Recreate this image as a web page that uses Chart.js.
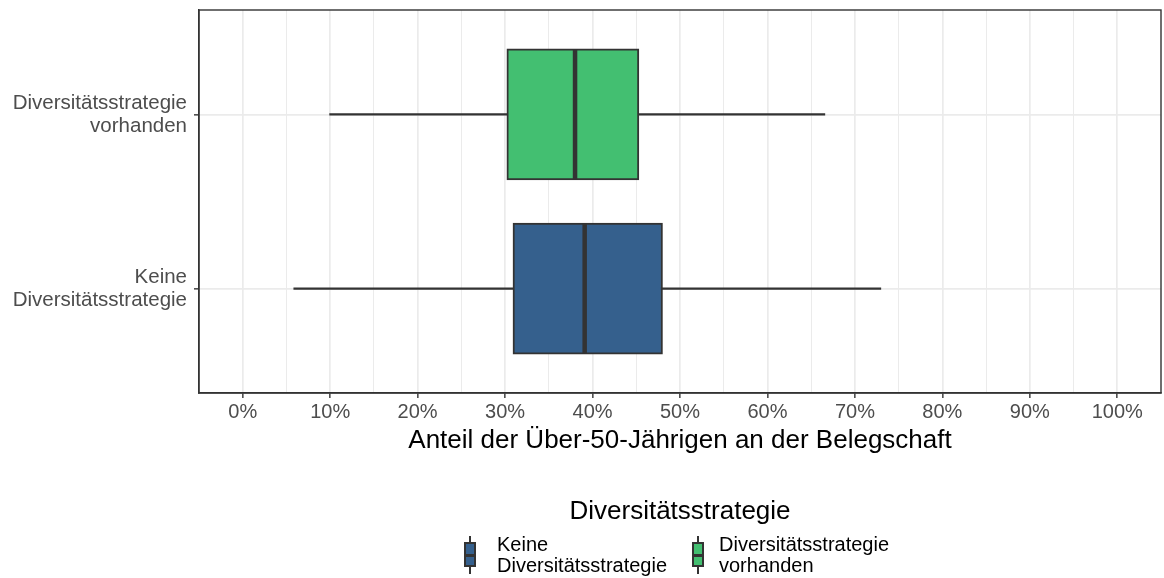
<!DOCTYPE html>
<html>
<head>
<meta charset="utf-8">
<script src="https://cdn.jsdelivr.net/npm/chart.js@4.4.1/dist/chart.umd.min.js"></script>
<style>
html, body { margin: 0; padding: 0; background: #ffffff; }
#wrap { position: relative; width: 1164px; height: 578px; overflow: hidden; }
#c { position: absolute; left: 0; top: 0; }
.lg { position: absolute; font-family: "Liberation Sans", Arial, sans-serif; color: #000; white-space: nowrap; }
.lgTitle { font-size: 26px; line-height: 30px; transform: translateX(-50%); }
.lgLabel { font-size: 20px; line-height: 21px; }
.glyph { position: absolute; }
.glyph .wh { position: absolute; left: 50%; width: 2px; margin-left: -1px; background: #333; }
.glyph .bx { position: absolute; box-sizing: border-box; border: 2px solid #333; }
.glyph .md { position: absolute; height: 3px; background: #333; }
</style>
</head>
<body>
<div id="wrap">
  <canvas id="c" width="1164" height="578"></canvas>
  <div id="legend"></div>
</div>
<script>
// ---------------- data ----------------
const categories = ['Keine Diversitätsstrategie', 'Diversitätsstrategie vorhanden'];
const categoryLabels = [['Keine', 'Diversitätsstrategie'], ['Diversitätsstrategie', 'vorhanden']];
const categoryPos = [1, 2];
const whiskerLow  = [5.8, 9.9];
const q1          = [30.9, 30.2];
const median      = [39.1, 38.0];
const q3          = [48.0, 45.3];
const whiskerHigh = [73.0, 66.6];
const boxColors   = ['#35608D', '#43BF71'];
const xTickValues = [0, 10, 20, 30, 40, 50, 60, 70, 80, 90, 100];
const xTitle = 'Anteil der Über-50-Jährigen an der Belegschaft';
const legendTitle = 'Diversitätsstrategie';
const legendLabels = [['Keine', 'Diversitätsstrategie'], ['Diversitätsstrategie', 'vorhanden']];

// ---------------- style ----------------
const FONT = '"Liberation Sans", Arial, sans-serif';
const INK = '#333333';
const GRID = '#EBEBEB';
const HALF_BOX = 0.375;

const minorTicks = [];
for (let i = 0; i < xTickValues.length - 1; i++) minorTicks.push((xTickValues[i] + xTickValues[i + 1]) / 2);
const allXTicks = xTickValues.concat(minorTicks).sort((a, b) => a - b);
const isMajor = v => xTickValues.includes(v);

const datasets = [];
// medians (drawn on top)
categories.forEach((c, i) => {
  datasets.push({
    type: 'line',
    label: c + ' median',
    data: [{ x: median[i], y: categoryPos[i] - HALF_BOX }, { x: median[i], y: categoryPos[i] + HALF_BOX }],
    borderColor: INK, borderWidth: 4.5, pointRadius: 0, borderCapStyle: 'butt', order: 0
  });
});
// boxes
datasets.push({
  type: 'bar',
  label: 'box',
  data: categories.map((c, i) => ({ x: [q1[i], q3[i]], y: categoryPos[i] })),
  backgroundColor: boxColors,
  borderColor: INK,
  borderWidth: 2,
  borderSkipped: false,
  barThickness: 131,
  grouped: false,
  order: 1
});
// whiskers
categories.forEach((c, i) => {
  datasets.push({
    type: 'line',
    label: c + ' whisker',
    data: [{ x: whiskerLow[i], y: categoryPos[i] }, { x: whiskerHigh[i], y: categoryPos[i] }],
    borderColor: INK, borderWidth: 2.2, pointRadius: 0, borderCapStyle: 'butt', order: 2
  });
});

const panelBorder = {
  id: 'panelBorder',
  afterDraw(chart) {
    const { ctx, chartArea: a } = chart;
    ctx.save();
    ctx.strokeStyle = INK;
    ctx.lineWidth = 1.4;
    ctx.strokeRect(a.left, a.top, a.right - a.left, a.bottom - a.top);
    ctx.restore();
  }
};

new Chart(document.getElementById('c'), {
  type: 'bar',
  data: { datasets },
  plugins: [panelBorder],
  options: {
    responsive: false,
    animation: false,
    indexAxis: 'y',
    layout: { padding: { top: 10, right: 3, bottom: 0, left: 0 } },
    plugins: { legend: { display: false }, tooltip: { enabled: false } },
    scales: {
      x: {
        type: 'linear',
        min: -5, max: 105,
        offset: false,
        afterBuildTicks: s => { s.ticks = allXTicks.map(v => ({ value: v })); },
        afterFit: s => { s.height = 185; s.paddingLeft = 0; s.paddingRight = 0; },
        ticks: {
          autoSkip: false, maxRotation: 0, minRotation: 0,
          callback: v => isMajor(v) ? v + '%' : '',
          font: { family: FONT, size: 20 },
          color: '#4D4D4D',
          padding: 2
        },
        grid: {
          offset: false,
          color: GRID,
          lineWidth: ctx => isMajor(ctx.tick.value) ? 1.7 : 1,
          tickLength: 5,
          tickColor: ctx => isMajor(ctx.tick.value) ? INK : 'rgba(0,0,0,0)',
          tickWidth: 1.4
        },
        border: { display: true, color: INK, width: 1.4 },
        title: {
          display: true, text: xTitle, color: '#000',
          font: { family: FONT, size: 26, lineHeight: 1.2 },
          padding: { top: 0, bottom: 122 }
        }
      },
      y: {
        type: 'linear',
        min: 0.4, max: 2.6,
        offset: false,
        afterBuildTicks: s => { s.ticks = categoryPos.map(v => ({ value: v })); },
        afterFit: s => { s.width = 199; s.paddingTop = 0; s.paddingBottom = 0; },
        ticks: {
          autoSkip: false,
          callback: v => { const k = categoryPos.indexOf(v); return k >= 0 ? categoryLabels[k] : ''; },
          font: { family: FONT, size: 20.5, lineHeight: 1.13 },
          color: '#4D4D4D',
          padding: 7
        },
        grid: { offset: false, color: GRID, lineWidth: 1.7, tickLength: 5, tickColor: INK, tickWidth: 1.4 },
        border: { display: true, color: INK, width: 1.4 }
      }
    }
  }
});

// ---------------- legend (HTML) ----------------
const lg = document.getElementById('legend');
const t = document.createElement('div');
t.className = 'lg lgTitle';
t.style.left = '680px'; t.style.top = '495px';
t.textContent = legendTitle;
lg.appendChild(t);

const glyphX = [470, 697.5];
const labelX = [497, 719];
legendLabels.forEach((lines, i) => {
  const g = document.createElement('div');
  g.className = 'glyph';
  g.style.left = (glyphX[i] - 6) + 'px'; g.style.top = '536px';
  g.style.width = '12px'; g.style.height = '38px';
  g.innerHTML =
    '<div class="wh" style="top:0;height:38px"></div>' +
    '<div class="bx" style="left:0;top:6px;width:12px;height:25px;background:' + boxColors[i] + '"></div>' +
    '<div class="md" style="left:0;top:17.5px;width:12px"></div>';
  lg.appendChild(g);
  const l = document.createElement('div');
  l.className = 'lg lgLabel';
  l.style.left = labelX[i] + 'px'; l.style.top = '534px';
  l.innerHTML = lines.join('<br>');
  lg.appendChild(l);
});
</script>
</body>
</html>
